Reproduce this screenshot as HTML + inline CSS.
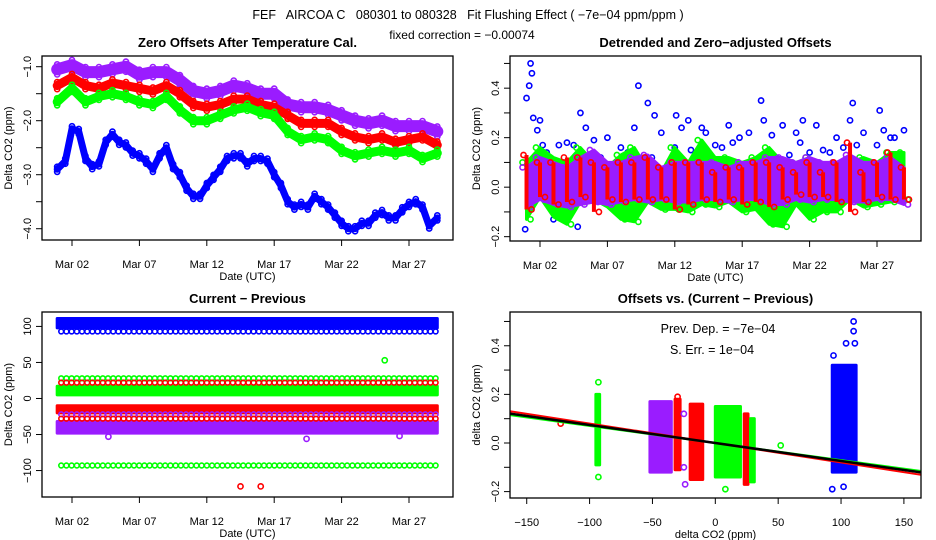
<!DOCTYPE html>
<html><head><meta charset="utf-8">
<style>
html,body{margin:0;padding:0;background:#fff;}
svg{display:block;font-family:"Liberation Sans",sans-serif;}
.pre{white-space:pre;}
</style></head>
<body>
<svg id="chart" width="936" height="540" viewBox="0 0 936 540" xmlns="http://www.w3.org/2000/svg">
<text class="pre" x="468" y="19" text-anchor="middle" font-size="12.5">FEF   AIRCOA C   080301 to 080328   Fit Flushing Effect ( −7e−04 ppm/ppm )</text>
<text x="462" y="39" text-anchor="middle" font-size="12">fixed correction = −0.00074</text>
</svg>
<script>
// ---------- DATA ----------
const p1Days = [0.9,2,3,4,5,6,7,8,9,10,11,12,13,14,15,16,17,18,19,20,21,22,23,24,25,26,27,28,29.1];
const p1Purple = [-1.05,-0.97,-1.1,-1.1,-1.05,-1.0,-1.15,-1.1,-1.1,-1.25,-1.45,-1.5,-1.45,-1.35,-1.4,-1.5,-1.5,-1.7,-1.75,-1.75,-1.8,-1.9,-2.0,-2.05,-2.0,-2.1,-2.1,-2.1,-2.2];
const p1Red = [-1.35,-1.2,-1.35,-1.4,-1.3,-1.35,-1.4,-1.45,-1.35,-1.5,-1.7,-1.75,-1.7,-1.6,-1.6,-1.7,-1.75,-1.9,-2.05,-2.05,-2.05,-2.2,-2.3,-2.35,-2.3,-2.4,-2.35,-2.3,-2.45];
const p1Green = [-1.65,-1.4,-1.65,-1.55,-1.5,-1.55,-1.65,-1.7,-1.55,-1.8,-2.0,-2.0,-1.9,-1.8,-1.75,-1.85,-1.9,-2.2,-2.35,-2.3,-2.35,-2.55,-2.65,-2.6,-2.55,-2.6,-2.55,-2.7,-2.6];
const p1BlueDays = [0.9,1.5,2,2.5,3,3.5,4,4.5,5,5.5,6,6.5,7,7.5,8,8.5,9,9.5,10,10.5,11,11.5,12,12.5,13,13.5,14,14.5,15,15.5,16,16.5,17,17.5,18,18.5,19,19.5,20,20.5,21,21.5,22,22.5,23,23.5,24,24.5,25,25.5,26,26.5,27,27.5,28,28.5,29.1];
const p1Blue = [-2.9,-2.75,-2.15,-2.2,-2.7,-2.85,-2.8,-2.4,-2.25,-2.4,-2.45,-2.6,-2.65,-2.75,-2.9,-2.65,-2.5,-2.85,-3.0,-3.25,-3.4,-3.4,-3.2,-3.05,-2.9,-2.7,-2.65,-2.65,-2.8,-2.7,-2.7,-2.75,-3.0,-3.2,-3.5,-3.6,-3.55,-3.6,-3.4,-3.5,-3.6,-3.75,-3.9,-4.0,-4.0,-3.9,-3.9,-3.75,-3.7,-3.8,-3.8,-3.65,-3.55,-3.5,-3.6,-3.95,-3.8];
const p1YTicks = [-1.0,-2.0,-3.0,-4.0];
const p1YMinor = [-1.5,-2.5,-3.5];
const dateTickDays = [2,7,12,17,22,27];
const dateTickLabels = ["Mar 02","Mar 07","Mar 12","Mar 17","Mar 22","Mar 27"];

const p2Days = [1,2,3,4,5,6,7,8,9,10,11,12,13,14,15,16,17,18,19,20,21,22,23,24,25,26,27,28,29];
const p2PurpleLo = [-0.08,-0.05,-0.07,-0.08,-0.07,-0.06,-0.07,-0.06,-0.05,-0.06,-0.05,-0.06,-0.06,-0.05,-0.05,-0.06,-0.05,-0.05,-0.07,-0.07,-0.05,-0.06,-0.05,-0.05,-0.06,-0.06,-0.05,-0.05,-0.07];
const p2PurpleHi = [0.08,0.12,0.1,0.08,0.12,0.15,0.1,0.1,0.12,0.13,0.08,0.1,0.1,0.1,0.1,0.08,0.1,0.1,0.12,0.12,0.1,0.12,0.1,0.1,0.13,0.1,0.1,0.12,0.08];
const p2RedLo = [-0.09,-0.04,-0.07,-0.06,-0.04,-0.1,-0.05,-0.06,-0.05,-0.05,-0.05,-0.09,-0.07,-0.05,-0.06,-0.05,-0.07,-0.06,-0.08,-0.05,-0.03,-0.04,-0.04,-0.06,-0.1,-0.06,-0.04,-0.05,-0.05];
const p2RedHi = [0.13,0.1,0.1,0.12,0.12,0.1,0.08,0.1,0.1,0.12,0.08,0.1,0.1,0.1,0.06,0.08,0.08,0.1,0.1,0.08,0.06,0.1,0.06,0.1,0.18,0.06,0.1,0.14,0.08];
const p2GreenLo = [-0.13,-0.04,-0.12,-0.15,-0.06,-0.05,-0.08,-0.13,-0.14,-0.06,-0.09,-0.09,-0.1,-0.07,-0.08,-0.06,-0.1,-0.09,-0.15,-0.16,-0.07,-0.13,-0.1,-0.1,-0.05,-0.08,-0.07,-0.06,-0.05];
const p2GreenHi = [0.1,0.16,0.12,0.1,0.16,0.1,0.08,0.13,0.16,0.07,0.06,0.16,0.1,0.19,0.12,0.12,0.1,0.12,0.16,0.1,0.1,0.12,0.06,0.06,0.1,0.12,0.1,0.14,0.14];
const p2BluePtDays = [0.9,1,1.2,1.3,1.4,1.5,1.8,2,2.2,2.5,3,3.4,3.5,4,4.5,4.8,5,5.4,6,6.5,7,8,8.5,9,9.3,10,10.3,10.5,11,12,12.1,12.5,13,13.2,14,14.3,15,15.5,16,16.3,16.8,17.5,18.4,18.6,19.2,19.5,20,20.5,21,21.3,21.5,22,22.5,23,23.5,24,24.5,25,25.2,25.5,26,27,27.2,27.5,28,28.3,29];
const p2Blue = [-0.17,0.36,0.41,0.5,0.46,0.28,0.23,0.27,0.17,0.14,-0.13,0.17,-0.1,0.18,0.17,-0.16,0.3,0.24,0.19,0.12,0.2,0.16,0.14,0.24,0.41,0.34,0.12,0.29,0.22,0.16,0.29,0.24,0.27,0.15,0.24,0.22,0.17,0.16,0.25,0.18,0.2,0.22,0.35,0.27,0.21,0.12,0.25,0.13,0.22,0.18,0.27,0.14,0.25,0.15,0.14,0.2,0.16,0.27,0.34,0.17,0.22,0.17,0.31,0.23,0.2,0.2,0.23];
const p2YTicks = [0.4,0.2,0.0,-0.2];
const p2YMinor = [0.5,0.3,0.1,-0.1];

const p3RowLevels = [93,28,22,-22,-28,-93];
const p3RowNames = ["blue","green","red","purple","red","green"];
const p3BandLo = [98,5,-20,-48];
const p3BandHi = [111,17,-10,-32];
const p3BandNames = ["blue","green","red","purple"];
const p3OutDays = [14.5,16,25.2,4.7,19.4,26.3];
const p3OutVals = [-122,-122,53,-53,-56,-52];
const p3OutNames = ["red","red","green","purple","purple","purple"];
const p3YTicks = [100,50,0,-50,-100];

const p4ClusterX0 = [-95,-52,-32,-20,0,23,28,93];
const p4ClusterX1 = [-92,-35,-28,-10,20,26,31,112];
const p4ClusterLo = [-0.09,-0.12,-0.11,-0.15,-0.14,-0.17,-0.16,-0.12];
const p4ClusterHi = [0.2,0.17,0.18,0.16,0.15,0.12,0.1,0.32];
const p4ClusterNames = ["green","purple","red","red","green","red","green","blue"];
const p4OutX = [-93,-93,-123,52,8,-24,110,110,111,93,102,-30,-25,-25,94,104];
const p4OutY = [0.25,-0.14,0.08,-0.01,-0.19,-0.17,0.5,0.46,0.41,-0.19,-0.18,0.19,0.12,-0.1,0.36,0.41];
const p4OutNames = ["green","green","red","green","green","purple","blue","blue","blue","blue","blue","red","purple","purple","blue","blue"];
const p4Slope = -0.00074;
const p4SlopeRed = -0.00080;
const p4Intercept = 0.0;
const p4XTicks = [-150,-100,-50,0,50,100,150];
const p4YTicks = [0.4,0.2,0.0,-0.2];
const p4YMinor = [0.5,0.3,0.1,-0.1];

// ---------- RENDER ----------
const svg = document.getElementById('chart');
const NS = 'http://www.w3.org/2000/svg';
const COL = {blue:'#0000ff',red:'#ff0000',green:'#00ff00',purple:'#9a1cff'};
function mk(tag, attrs, parent){
  const e = document.createElementNS(NS, tag);
  for (const k in attrs) e.setAttribute(k, attrs[k]);
  (parent||svg).appendChild(e);
  return e;
}
function panel(name, L, R, T, B, xmin, xmax, ymin, ymax){
  const g = mk('g', {});
  
  
  return {g, L, R, T, B,
    x: v => L + (v - xmin) / (xmax - xmin) * (R - L),
    y: v => B - (v - ymin) / (ymax - ymin) * (B - T)};
}
function frame(p, title, ytitle, xtitle){
  const t = mk('text', {x:(p.L+p.R)/2, y:p.T-9, 'text-anchor':'middle', 'font-size':13, 'font-weight':'bold'}, p.g);
  t.textContent = title;
  
  
  const yt = mk('text', {x:0, y:0, 'text-anchor':'middle', 'font-size':11, transform:`translate(${p.L-30},${(p.T+p.B)/2}) rotate(-90)`}, p.g);
  yt.textContent = ytitle;
  
  
  const xt = mk('text', {x:(p.L+p.R)/2, y:p.B+40, 'text-anchor':'middle', 'font-size':11}, p.g);
  xt.textContent = xtitle;
  
  
}
function yaxis(p, ticks, minor, fmt){
  for (const v of ticks.concat(minor)){
    mk('line', {x1:p.L-6, x2:p.L, y1:p.y(v), y2:p.y(v), stroke:'#000', 'stroke-width':1}, p.g);
  }
  for (const v of ticks){
    const t = mk('text', {x:0, y:0, 'text-anchor':'middle', 'font-size':11, transform:`translate(${p.L-11},${p.y(v)}) rotate(-90)`}, p.g);
    t.textContent = fmt(v);
    
    
  }
}
function xaxis(p, vals, labels){
  vals.forEach((v,i)=>{
    mk('line', {x1:p.x(v), x2:p.x(v), y1:p.B, y2:p.B+6, stroke:'#000', 'stroke-width':1}, p.g);
    const t = mk('text', {x:p.x(v), y:p.B+28, 'text-anchor':'middle', 'font-size':11}, p.g);
    t.textContent = labels[i];
    
    
  });
}
function pt(p, x, y, c, r){
  const e = mk('circle', {cx:x, cy:y, r:r||2.6, fill:'none', stroke:c, 'stroke-width':1.6}, p.g);
  
  
  return e;
}
function series(p, xs, ys, c, w, name){
  const d = xs.map((x,i)=>(i?'L':'M')+p.x(x).toFixed(1)+','+p.y(ys[i]).toFixed(1)).join('');
  const e = mk('path', {d, fill:'none', stroke:c, 'stroke-width':w, 'stroke-linejoin':'round', 'stroke-linecap':'round'}, p.g);
  
  
  xs.forEach((x,i)=>{ pt(p, p.x(x), p.y(ys[i]) - w/2 + 1, c); pt(p, p.x(x), p.y(ys[i]) + w/2 - 1, c); });
}
const fmt1 = v => (v<0?'−':'')+Math.abs(v).toFixed(1);
const fmt0 = v => (v<0?'−':'')+Math.abs(v);

// Panel 1
const dayX0 = 2 - 30/13.48, dayX1 = 2 + (453-72)/13.48;
const p1 = panel('zero-offsets-panel', 42, 453, 56, 240, dayX0, dayX1, -4.209, -0.802);
frame(p1, 'Zero Offsets After Temperature Cal.', 'Delta CO2 (ppm)', 'Date (UTC)');
yaxis(p1, p1YTicks, p1YMinor, fmt1);
xaxis(p1, dateTickDays, dateTickLabels);
series(p1, p1Days, p1Purple, COL.purple, 12, 'purple-series');
series(p1, p1Days, p1Red, COL.red, 9, 'red-series');
series(p1, p1Days, p1Green, COL.green, 9, 'green-series');
series(p1, p1BlueDays, p1Blue, COL.blue, 7, 'blue-series');

// Panel 2
const p2 = panel('detrended-offsets-panel', 510, 921, 56, 241, dayX0, dayX1, -0.2175, 0.53);
frame(p2, 'Detrended and Zero−adjusted Offsets', 'Delta CO2 (ppm)', 'Date (UTC)');
yaxis(p2, p2YTicks, p2YMinor, fmt1);
xaxis(p2, dateTickDays, dateTickLabels);
p2BluePtDays.forEach((d,i)=>{ pt(p2, p2.x(d), p2.y(p2Blue[i]), COL.blue); });
function area(p, xs, lo, hi, c, name){
  const top = xs.map((d,i)=>p.x(d).toFixed(1)+','+p.y(hi[i]).toFixed(1));
  const bot = xs.map((d,i)=>p.x(d).toFixed(1)+','+p.y(lo[i]).toFixed(1)).reverse();
  const e = mk('polygon', {points: top.concat(bot).join(' '), fill:c, stroke:c, 'stroke-width':3, 'stroke-linejoin':'round'}, p.g);
  
  
  xs.forEach((d,i)=>{ pt(p, p.x(d)+4, p.y(lo[i]), c); pt(p, p.x(d)-4, p.y(hi[i]), c); });
}
area(p2, p2Days, p2GreenLo, p2GreenHi, COL.green, 'green-band');
area(p2, p2Days, p2PurpleLo, p2PurpleHi, COL.purple, 'purple-band');
p2Days.forEach((d,i)=>{
  const e = mk('line', {x1:p2.x(d), x2:p2.x(d), y1:p2.y(p2RedLo[i]), y2:p2.y(p2RedHi[i]), stroke:COL.red, 'stroke-width':4}, p2.g);
  
  
  pt(p2, p2.x(d)+5, p2.y(p2RedLo[i]), COL.red); pt(p2, p2.x(d)-3, p2.y(p2RedHi[i]), COL.red);
});

// Panel 3
const p3 = panel('current-minus-previous-panel', 42, 453, 312, 497, dayX0, dayX1, -136.7, 120);
frame(p3, 'Current − Previous', 'Delta CO2 (ppm)', 'Date (UTC)');
yaxis(p3, p3YTicks, [], fmt0);
xaxis(p3, dateTickDays, dateTickLabels);
p3BandLo.forEach((lo,i)=>{
  const c = COL[p3BandNames[i]];
  const e = mk('rect', {x:p3.x(0.9), y:p3.y(p3BandHi[i]), width:p3.x(29.1)-p3.x(0.9), height:p3.y(lo)-p3.y(p3BandHi[i]), fill:c, stroke:c, 'stroke-width':3, 'stroke-linejoin':'round'}, p3.g);
  
  
});
p3RowLevels.forEach((lv,i)=>{
  const c = COL[p3RowNames[i]];
  for (let x = p3.x(1.2); x <= p3.x(29.1); x += 5.2) pt(p3, x, p3.y(lv), c, 2.4);
});
p3OutDays.forEach((d,i)=>{ pt(p3, p3.x(d), p3.y(p3OutVals[i]), COL[p3OutNames[i]]); });

// Panel 4
const p4 = panel('offsets-vs-change-panel', 510, 921, 312, 498, -163.3, 163.6, -0.2263, 0.5389);
frame(p4, 'Offsets vs. (Current − Previous)', 'delta CO2 (ppm)', 'delta CO2 (ppm)');
yaxis(p4, p4YTicks, p4YMinor, fmt1);
xaxis(p4, p4XTicks, p4XTicks.map(fmt0));
p4ClusterX0.forEach((x0,i)=>{
  const c = COL[p4ClusterNames[i]];
  const e = mk('rect', {x:p4.x(x0), y:p4.y(p4ClusterHi[i]), width:Math.max(1,p4.x(p4ClusterX1[i])-p4.x(x0)), height:p4.y(p4ClusterLo[i])-p4.y(p4ClusterHi[i]), fill:c, stroke:c, 'stroke-width':3, 'stroke-linejoin':'round'}, p4.g);
  
  
});
p4OutX.forEach((x,i)=>{ pt(p4, p4.x(x), p4.y(p4OutY[i]), COL[p4OutNames[i]]); });
function fitLine(slope, c, w, name){
  const e = mk('line', {x1:p4.L, y1:p4.y(p4Intercept+slope*-163.3), x2:p4.R, y2:p4.y(p4Intercept+slope*163.6), stroke:c, 'stroke-width':w}, p4.g);
  
  
}
fitLine(p4SlopeRed, COL.red, 2, 'red-fit-line');
fitLine(p4Slope*0.95, COL.green, 2, 'green-fit-line');
fitLine(p4Slope, '#000', 2.5, 'black-fit-line');
const a1 = mk('text', {x:718, y:333, 'text-anchor':'middle', 'font-size':12.5}, p4.g);
a1.textContent = 'Prev. Dep. =  −7e−04';


const a2 = mk('text', {x:712, y:354, 'text-anchor':'middle', 'font-size':12.5}, p4.g);
a2.textContent = 'S. Err. =  1e−04';


[p1,p2,p3,p4].forEach(p=>{
  const e = mk('rect', {x:p.L, y:p.T, width:p.R-p.L, height:p.B-p.T, fill:'none', stroke:'#000', 'stroke-width':1.3}, p.g);
  
  
});
</script>
</body></html>
